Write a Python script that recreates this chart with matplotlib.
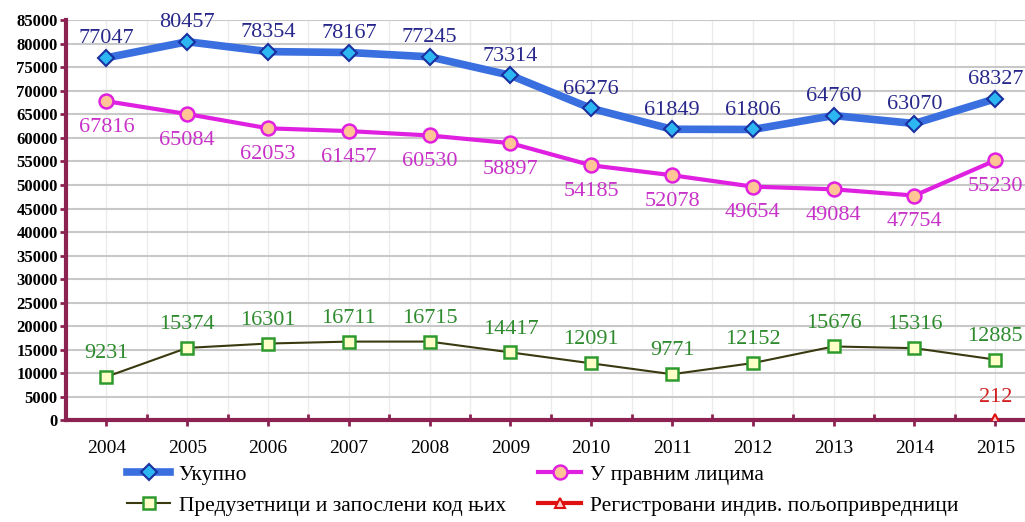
import matplotlib.pyplot as plt
import numpy as np

godine = ['2004', '2005', '2006', '2007', '2008', '2009', '2010', '2011', '2012', '2013', '2014', '2015']
ukupno = [77047, 80457, 78354, 78167, 77245, 73314, 66276, 61849, 61806, 64760, 63070, 68327]
pravna = [67816, 65084, 62053, 61457, 60530, 58897, 54185, 52078, 49654, 49084, 47754, 55230]
preduzetnici = [9231, 15374, 16301, 16711, 16715, 14417, 12091, 9771, 12152, 15676, 15316, 12885]
poljoprivrednici = [np.nan] * 11 + [212]

plt.rcParams['font.family'] = ['Liberation Serif', 'DejaVu Serif']

fig = plt.figure(figsize=(10.25, 5.22), dpi=100)
ax = fig.add_axes([0.0644, 0.195, 0.946, 0.766])
x = np.arange(len(godine))

ax.plot(x, ukupno, color='#3A6FE0', lw=5.5, marker='D', ms=8,
        mfc='#2DB7F2', mec='#1A2FA0', mew=1.5, label='Укупно', zorder=5)
ax.plot(x, pravna, color='#E020E0', lw=3, marker='o', ms=10,
        mfc='#FFC595', mec='#E020E0', mew=1.8, label='У правним лицима', zorder=5)
ax.plot(x, preduzetnici, color='#3A3A10', lw=1.5, marker='s', ms=9,
        mfc='#FFFFC8', mec='#2E9A2E', mew=1.8, label='Предузетници и запослени код њих', zorder=5)
ax.plot(x, poljoprivrednici, color='#E01010', lw=3, marker='^', ms=7,
        mfc='#FFD0D0', mec='#E01010', mew=1.5, label='Регистровани индив. пољопривредници', zorder=5)

for i in range(len(x)):
    ax.annotate(str(ukupno[i]), (x[i], ukupno[i]), xytext=(0, 7), textcoords='offset points',
                ha='center', va='bottom', fontsize=16, color='#28288C')
    ax.annotate(str(pravna[i]), (x[i], pravna[i]), xytext=(0, -12), textcoords='offset points',
                ha='center', va='top', fontsize=16, color='#C832C8')
    ax.annotate(str(preduzetnici[i]), (x[i], preduzetnici[i]), xytext=(0, 10), textcoords='offset points',
                ha='center', va='bottom', fontsize=16, color='#2E8B2E')
ax.annotate('212', (x[11], poljoprivrednici[11]), xytext=(0, 9), textcoords='offset points',
            ha='center', va='bottom', fontsize=16, color='#D02020')

ax.set_xlim(-0.5, 11.5)
ax.set_ylim(0, 85000)
ax.set_yticks(np.arange(0, 85001, 5000))
ax.set_xticks(x)
ax.set_xticklabels(godine)
ax.set_xticks(np.arange(-0.5, 12, 1), minor=True)
ax.tick_params(axis='y', labelsize=12, length=4, color='#8B2252', width=2, pad=2)
ax.tick_params(axis='x', which='major', labelsize=14, length=4, color='#8B2252', width=2, pad=10)
ax.tick_params(axis='x', which='minor', length=4, direction='in', color='#8B2252', width=2)
for lbl in ax.get_yticklabels():
    lbl.set_fontweight('bold')

ax.grid(axis='y', color='#C8C8C8', lw=1.5)
ax.grid(axis='x', which='both', color='#EBEBEB', lw=1)
ax.set_axisbelow(True)
for s in ['top', 'right']:
    ax.spines[s].set_visible(False)
for s in ['left', 'bottom']:
    ax.spines[s].set_color('#8B2252')
    ax.spines[s].set_linewidth(3)

handles, labels = ax.get_legend_handles_labels()
order = [0, 2, 1, 3]
fig.legend([handles[i] for i in order], [labels[i] for i in order], ncol=2, loc='lower left',
           bbox_to_anchor=(0.105, -0.025), frameon=False, fontsize=15.5, columnspacing=1.5,
           handlelength=2, handletextpad=0.4, labelspacing=0.5)

fig.savefig('out.png', dpi=100)
